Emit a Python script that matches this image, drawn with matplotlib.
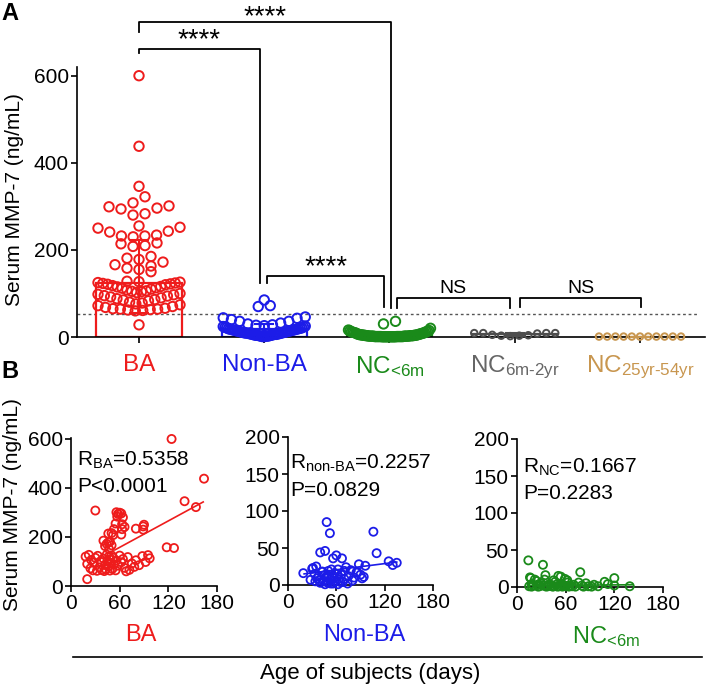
import numpy as np
import matplotlib
matplotlib.use('Agg')
import matplotlib.pyplot as plt
from matplotlib.lines import Line2D

plt.rcParams['font.family'] = ['Liberation Sans', 'DejaVu Sans']
plt.rcParams['mathtext.fontset'] = 'custom'
plt.rcParams['mathtext.rm'] = 'Liberation Sans'
plt.rcParams['mathtext.it'] = 'Liberation Sans:italic'
plt.rcParams['mathtext.bf'] = 'Liberation Sans:bold'

# ---- data ----
groups = ['BA', 'Non-BA', r'NC$_{\text{<6m}}$', r'NC$_{\text{6m-2yr}}$', r'NC$_{\text{25yr-54yr}}$']
colors = ['#ee1c1c', '#1c1ce8', '#1a8a1a', '#4d4d4d', '#c8964f']
label_colors = ['#ee1c1c', '#1c1ce8', '#1a8a1a', '#666666', '#c8964f']

ba_mmp7 = [600, 438, 346, 322, 308, 301, 299, 296, 294, 283, 280, 255, 252, 250, 243, 241,
           234, 232, 232, 230, 216, 214, 210, 208, 185, 181, 178, 172, 166, 163, 158, 155, 150,
           128, 127, 126, 125, 124, 123, 122, 121, 120, 118, 116, 115, 113, 112, 110, 108, 106,
           105, 104, 102, 100, 98, 97, 95, 94, 92, 90, 88, 86, 85, 83, 80, 78, 76, 74, 72, 70,
           68, 66, 65, 64, 64, 63, 62, 61, 60, 28]
ba_age = [124, 164, 140, 154, 30, 56, 60, 62, 58, 57, 64, 55, 63, 90, 89, 66,
          80, 53, 63, 89, 50, 46, 62, 52, 40, 48, 46, 44, 50, 42, 118, 127, 47,
          44, 22, 95, 50, 60, 33, 88, 47, 18, 70, 52, 30, 97, 40, 64, 48, 25,
          80, 56, 45, 36, 92, 62, 28, 49, 75, 20, 53, 42, 84, 58, 46, 78, 35, 66,
          24, 51, 43, 72, 38, 55, 27, 48, 32, 41, 68, 20]

nonba_mmp7 = [85, 72, 70, 46, 44, 43, 40, 36, 36, 32, 30, 28, 27, 26, 25, 24, 22, 21, 20, 19,
              18, 17, 16, 16, 15, 14, 14, 13, 12, 12, 11, 10, 10, 9, 9, 8, 8, 7, 7, 6, 6,
              5, 5, 4, 4, 3, 3, 2, 2, 1, 1,
              23, 21, 19, 18, 17, 15, 13, 11, 9, 6, 4, 2]
nonba_age = [48, 106, 52, 46, 40, 110, 60, 56, 67, 125, 135, 88, 130, 96, 35, 72, 30, 62, 78, 50,
             42, 85, 19, 58, 33, 66, 90, 45, 75, 38, 55, 82, 48, 92, 36, 63, 70, 52, 28, 44, 80,
             58, 34, 48, 68, 50, 40, 74, 56, 46, 62,
             31, 54, 70, 43, 86, 61, 49, 94, 57, 39, 65, 53]

nc_mmp7 = [36, 30, 20, 16, 15, 13, 12, 11, 10, 9, 7, 6, 5, 5, 4, 4, 4, 3, 3, 3, 3,
           2, 2, 2, 2, 2, 2, 2, 1, 1, 1, 1, 1, 1, 1, 1, 1,
           0.5, 0.5, 0.5, 0.5, 0.5, 0.5, 0.5, 0.5, 0.5, 0.5,
           14, 12, 10, 9, 8, 7, 6, 5, 4, 3, 2, 1]
nc_age = [14, 32, 78, 35, 51, 16, 120, 59, 22, 45, 108, 62, 30, 85, 18, 40, 55, 25, 48, 70, 95,
          20, 33, 42, 58, 65, 80, 120, 15, 28, 38, 45, 52, 60, 88, 100, 139,
          18, 26, 36, 44, 50, 56, 64, 72, 82, 92,
          54, 17, 34, 62, 24, 47, 76, 29, 112, 57, 38, 68]

nc_6m_2yr = [9, 9, 4, 3, 2, 3, 5, 8, 9, 9]
nc_25_54yr = [1, 1, 1, 1, 1, 1, 1, 1, 1, 1, 1]

bar_height = [124, 18, 4, 6, 1]
err_low = [55, 8, 1, 3, 1]
err_high = [222, 30, 8, 9, 1]

fit_days = {'BA': [54, 163], 'Non-BA': [20, 135], 'NC': [14, 142]}
fit_mmp7 = {'BA': [147, 343], 'Non-BA': [15, 31], 'NC': [2, 3]}

# ---- figure ----
W, H = 709, 691
fig = plt.figure(figsize=(W / 100, H / 100), dpi=100)


def box(l, t, r, b):
    return [l / W, 1 - b / H, (r - l) / W, (b - t) / H]


def swarm(vals, center, ppx, ppy, d=11, wmax=80):
    # GraphPad-like scatter: bin by marker height, spread each bin sideways
    vals = np.asarray(vals, float)
    xs = np.full(len(vals), float(center))
    bins = np.floor(vals / (d / ppy)).astype(int)
    for b in np.unique(bins):
        idx = np.where(bins == b)[0]
        idx = idx[np.argsort(vals[idx], kind='stable')]
        n = len(idx)
        if n == 1:
            continue
        step = min(d + 1, wmax / (n - 1))
        pos = [(i - (n - 1) / 2) * step for i in range(n)]
        pos = sorted(pos, key=lambda p: (abs(p), p))
        for k, j in enumerate(idx):
            xs[j] = center + pos[k] / ppx
    return xs


def style_axes(ax, fs):
    for s in ['top', 'right']:
        ax.spines[s].set_visible(False)
    for s in ['left', 'bottom']:
        ax.spines[s].set_linewidth(1.2)
    ax.tick_params(direction='out', length=4, width=1.2, labelsize=fs, pad=2)


# ---- panel A ----
axA = fig.add_axes(box(77, 67, 705, 337))
style_axes(axA, 15)
ppx, ppy = 125.25, 0.435
axA.set_xlim(-0.495, 4.519)
axA.set_ylim(0, 620)
axA.set_yticks([0, 200, 400, 600])

all_vals = [ba_mmp7, nonba_mmp7, nc_mmp7, nc_6m_2yr, nc_25_54yr]
for i, vals in enumerate(all_vals):
    axA.bar(i, bar_height[i], width=0.68, facecolor='none', edgecolor=colors[i],
            linewidth=1.6, zorder=2)
    axA.errorbar(i, bar_height[i], yerr=[[bar_height[i] - err_low[i]], [err_high[i] - bar_height[i]]],
                 color=colors[i], capsize=7, elinewidth=1.5, capthick=1.5, zorder=3)
    small = i >= 3
    xs = swarm(vals, i, ppx, ppy, d=8 if small else 11, wmax=82)
    axA.scatter(xs, vals, s=22 if small else 46, facecolors='none', edgecolors=colors[i],
                linewidths=1.4, zorder=4, clip_on=False)

axA.axhline(53, xmin=0, xmax=0.987, color='#555555', lw=1, ls=(0, (2, 2)), zorder=1)
axA.set_xticks(range(5))
axA.set_xticklabels(groups, fontsize=17.5)
axA.tick_params(axis='x', pad=8)
for t, c in zip(axA.get_xticklabels(), label_colors):
    t.set_color(c)


def bracket(x0, x1, y, y0, y1, text, fs, dy):
    axA.plot([x0, x0, x1, x1], [y0, y, y, y1], color='k', lw=1.3, clip_on=False, zorder=5)
    axA.text((x0 + x1) / 2, y + dy, text, ha='center', va='baseline', fontsize=fs, clip_on=False)


bracket(0.0, 2.01, 723, 701, 67, '****', 20, -4)
bracket(0.0, 0.966, 662, 653, 124, '****', 20, 4)
bracket(1.02, 1.96, 140, 124, 69, '****', 20, 4)
bracket(2.06, 2.96, 90, 67, 67, 'NS', 14, 10)
bracket(3.04, 4.01, 90, 69, 69, 'NS', 14, 10)

fig.text(15 / W, 1 - 200 / H, 'Serum MMP-7 (ng/mL)', rotation=90, ha='center', va='center', fontsize=15)
fig.text(10 / W, 1 - 13 / H, 'A', ha='center', va='center', fontsize=17, fontweight='bold')

# ---- panel B ----
ax1 = fig.add_axes(box(71, 438, 217, 586))
ax2 = fig.add_axes(box(288, 437, 433, 585))
ax3 = fig.add_axes(box(517, 439, 663, 587))

panel_b = [
    (ax1, ba_age, ba_mmp7, colors[0], 'BA', 604, [0, 200, 400, 600],
     r'R$_{\text{BA}}$=0.5358', 'P<0.0001', (0.04, 0.85, 0.67)),
    (ax2, nonba_age, nonba_mmp7, colors[1], 'Non-BA', 200, [0, 50, 100, 150, 200],
     r'R$_{\text{non-BA}}$=0.2257', 'P=0.0829', (0.014, 0.82, 0.64)),
    (ax3, nc_age, nc_mmp7, colors[2], 'NC', 200, [0, 50, 100, 150, 200],
     r'R$_{\text{NC}}$=0.1667', 'P=0.2283', (0.04, 0.81, 0.635)),
]
for ax, age, vals, c, key, ytop, yt, rtxt, ptxt, (tx, ry, py) in panel_b:
    style_axes(ax, 15)
    ax.set_xlim(0, 180)
    ax.set_ylim(0, ytop)
    ax.set_xticks([0, 60, 120, 180])
    ax.set_yticks(yt)
    ax.scatter(age, vals, s=34, facecolors='none', edgecolors=c, linewidths=1.3, clip_on=False, zorder=3)
    ax.plot(fit_days[key], fit_mmp7[key], color=c, lw=1.2, zorder=2)
    ax.text(tx, ry, rtxt, transform=ax.transAxes, ha='left', va='center', fontsize=15)
    ax.text(tx, py, ptxt, transform=ax.transAxes, ha='left', va='center', fontsize=15)

fig.text(141 / W, 1 - 635 / H, 'BA', color=label_colors[0], ha='center', va='center', fontsize=17)
fig.text(364 / W, 1 - 635 / H, 'Non-BA', color=label_colors[1], ha='center', va='center', fontsize=17)
fig.text(606 / W, 1 - 637 / H, groups[2], color=label_colors[2], ha='center', va='center', fontsize=17)

fig.text(13 / W, 1 - 505 / H, 'Serum MMP-7 (ng/mL)', rotation=90, ha='center', va='center', fontsize=15)
fig.text(10 / W, 1 - 372 / H, 'B', ha='center', va='center', fontsize=17, fontweight='bold')

fig.add_artist(Line2D([73 / W, 702 / W], [1 - 657 / H, 1 - 657 / H], color='k', lw=1.2))
fig.text(370 / W, 1 - 674 / H, 'Age of subjects (days)', ha='center', va='center', fontsize=16)

fig.savefig('out.png', dpi=100)
